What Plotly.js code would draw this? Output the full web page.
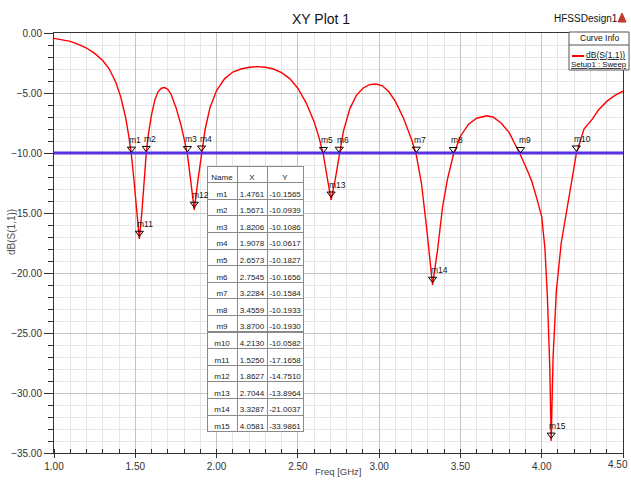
<!DOCTYPE html>
<html>
<head>
<meta charset="utf-8">
<script src="https://cdn.plot.ly/plotly-3.0.1.min.js"></script>
<style>html,body{margin:0;padding:0;background:#fff;}#plot{width:631px;height:486px;}</style>
</head>
<body>
<div id="plot"></div>
<script>
// S11 curve (Freq GHz, dB)
const freq = [1.00,1.05,1.10,1.15,1.20,1.25,1.30,1.34,1.38,1.41,1.44,1.46,1.4761,1.49,1.505,1.525,1.54,1.555,1.5671,1.58,1.60,1.62,1.64,1.66,1.68,1.70,1.72,1.75,1.78,1.80,1.8206,1.84,1.8627,1.885,1.9078,1.93,1.96,2.00,2.05,2.10,2.15,2.20,2.25,2.30,2.35,2.40,2.45,2.50,2.55,2.60,2.63,2.6573,2.68,2.7044,2.73,2.7545,2.78,2.82,2.86,2.90,2.94,2.98,3.02,3.06,3.10,3.15,3.20,3.2284,3.26,3.29,3.3287,3.36,3.39,3.42,3.4559,3.50,3.55,3.60,3.66,3.70,3.75,3.80,3.85,3.87,3.91,3.94,3.97,4.00,4.02,4.035,4.05,4.0581,4.07,4.09,4.12,4.15,4.18,4.213,4.26,4.31,4.35,4.40,4.45,4.50];
const s11 = [-0.45,-0.55,-0.7,-0.95,-1.25,-1.7,-2.3,-3.0,-4.1,-5.3,-7.0,-8.6,-10.16,-12.0,-14.5,-17.17,-15.0,-12.0,-10.09,-8.5,-6.8,-5.6,-4.9,-4.6,-4.55,-4.7,-5.1,-6.2,-7.6,-8.8,-10.11,-12.2,-14.75,-12.3,-10.06,-8.0,-6.2,-4.8,-3.8,-3.25,-3.0,-2.85,-2.8,-2.85,-3.0,-3.3,-3.8,-4.6,-5.8,-7.4,-8.7,-10.18,-12.0,-13.90,-12.2,-10.17,-8.2,-6.3,-5.2,-4.6,-4.3,-4.25,-4.4,-4.9,-5.7,-7.1,-8.9,-10.16,-12.5,-16.0,-21.0,-18.0,-14.5,-12.2,-10.19,-8.6,-7.6,-7.1,-6.9,-7.0,-7.5,-8.3,-9.6,-10.19,-11.4,-12.4,-13.8,-15.3,-18.0,-22.0,-28.0,-33.99,-27.0,-21.5,-17.5,-15.2,-12.8,-10.06,-8.0,-7.2,-6.4,-5.7,-5.2,-4.85];

// markers
const mNames = ['m1','m2','m3','m4','m5','m6','m7','m8','m9','m10','m11','m12','m13','m14','m15'];
const mX = [1.4761,1.5671,1.8206,1.9078,2.6573,2.7545,3.2284,3.4559,3.8700,4.2130,1.5250,1.8627,2.7044,3.3287,4.0581];
const mY = [-10.1565,-10.0939,-10.1086,-10.0617,-10.1827,-10.1656,-10.1584,-10.1933,-10.1930,-10.0582,-17.1658,-14.7510,-13.8964,-21.0037,-33.9861];
const mXText = ['1.4761','1.5671','1.8206','1.9078','2.6573','2.7545','3.2284','3.4559','3.8700','4.2130','1.5250','1.8627','2.7044','3.3287','4.0581'];
const mYText = ['-10.1565','-10.0939','-10.1086','-10.0617','-10.1827','-10.1656','-10.1584','-10.1933','-10.1930','-10.0582','-17.1658','-14.7510','-13.8964','-21.0037','-33.9861'];

const refLevel = -10;
const xTicks = [1.0,1.5,2.0,2.5,3.0,3.5,4.0,4.5];
const yTicks = [0,-5,-10,-15,-20,-25,-30,-35];

const FONT = '"Liberation Sans Narrow","Arial Narrow","Liberation Sans",Arial,sans-serif';
const W = 631, H = 486, L = 54, R = 8, T = 33, B = 33;
const pw = W - L - R, ph = H - T - B;
const px = v => (v - L) / pw;          // pixel x -> paper
const py = v => (H - B - v) / ph;      // pixel y -> paper

// last x tick label sits at the right page edge: drawn as a right-anchored annotation
const lastX = xTicks[xTicks.length - 1];
const xTickText = xTicks.map(v => v === lastX ? '' : v.toFixed(2));

// marker triangles drawn slightly above each point (triangle tip at the point)
const triOffset = 0.5;
const traces = [
  {x: freq, y: s11, mode: 'lines', line: {color: '#ff0000', width: 1.4}, hoverinfo: 'skip'},
  {x: [1, 4.5], y: [refLevel, refLevel], mode: 'lines', line: {color: '#5a32e6', width: 3}, hoverinfo: 'skip'},
  {x: mX, y: mY.map(v => v + triOffset), mode: 'markers',
   marker: {symbol: 'triangle-down-open', size: 7, color: '#000', line: {color: '#000', width: 1}}},
  {type: 'table', columnwidth: [30, 30, 36],
   domain: {x: [px(207), px(303)], y: [py(432), py(166)]},
   header: {values: ['Name', 'X', 'Y'], height: 16.6, align: 'center',
            fill: {color: '#fff'}, line: {color: '#8a8a8a', width: 1},
            font: {family: FONT, size: 8, color: '#222'}},
   cells: {values: [mNames, mXText, mYText], height: 16.6, align: 'center',
           fill: {color: '#fff'}, line: {color: '#8a8a8a', width: 1},
           font: {family: FONT, size: 8, color: '#222'}}}
];

const annotations = mNames.map((n, i) => ({
  x: mX[i], y: mY[i], xref: 'x', yref: 'y', text: n, showarrow: false,
  xanchor: 'left', yanchor: 'bottom', xshift: -4, yshift: 8,
  font: {family: FONT, size: 8.5, color: '#111'}
}));
annotations.push(
  {xref: 'x', yref: 'paper', x: lastX, y: 0, text: lastX.toFixed(2), showarrow: false,
   xanchor: 'right', yanchor: 'top', xshift: 7, yshift: -4, font: {family: FONT, size: 10, color: '#333'}},
  {xref: 'paper', yref: 'paper', x: px(321), y: py(19), text: 'XY Plot 1', showarrow: false,
   xanchor: 'center', yanchor: 'middle', font: {family: FONT, size: 14, color: '#111'}},
  {xref: 'paper', yref: 'paper', x: px(552), y: py(19), text: 'HFSSDesign1', showarrow: false,
   xanchor: 'left', yanchor: 'middle', font: {family: FONT, size: 10, color: '#111'}},
  {xref: 'paper', yref: 'paper', x: px(599), y: py(38.5), text: 'Curve Info', showarrow: false,
   xanchor: 'center', yanchor: 'middle', font: {family: FONT, size: 8.5, color: '#111'}},
  {xref: 'paper', yref: 'paper', x: px(627), y: py(55), text: '<u>dB(S(1,1))</u>', showarrow: false,
   xanchor: 'right', yanchor: 'middle', font: {family: FONT, size: 8.5, color: '#111'}},
  {xref: 'paper', yref: 'paper', x: px(599), y: py(64.5), text: '<u>Setup1 : Sweep</u>', showarrow: false,
   xanchor: 'center', yanchor: 'middle', font: {family: FONT, size: 7.8, color: '#111'}},
  {xref: 'paper', yref: 'paper', x: px(338), y: py(471), text: 'Freq [GHz]', showarrow: false,
   xanchor: 'center', yanchor: 'middle', font: {family: FONT, size: 9.5, color: '#444'}},
  {xref: 'paper', yref: 'paper', x: px(11), y: py(232), text: 'dB(S(1,1))', showarrow: false,
   textangle: -90, xanchor: 'center', yanchor: 'middle', font: {family: FONT, size: 10, color: '#555'}}
);

const shapes = [
  {type: 'rect', xref: 'paper', yref: 'paper', x0: px(569), x1: px(629), y0: py(70), y1: py(32),
   line: {color: '#555', width: 1}, fillcolor: '#fff', layer: 'above'},
  {type: 'line', xref: 'paper', yref: 'paper', x0: px(569), x1: px(629), y0: py(45), y1: py(45),
   line: {color: '#555', width: 1}, layer: 'above'},
  {type: 'line', xref: 'paper', yref: 'paper', x0: px(572), x1: px(584), y0: py(56), y1: py(56),
   line: {color: '#ff0000', width: 2}, layer: 'above'},
  {type: 'path', xref: 'paper', yref: 'paper',
   path: `M ${px(618)} ${py(22)} L ${px(622)} ${py(13)} L ${px(626)} ${py(22)} Z`,
   fillcolor: '#c0392b', line: {color: '#c0392b', width: 1}}
];

const layout = {
  width: W, height: H,
  margin: {l: L, r: R, t: T, b: B, pad: 0},
  paper_bgcolor: '#fff', plot_bgcolor: '#fff',
  showlegend: false,
  font: {family: FONT, size: 10, color: '#333'},
  xaxis: {
    range: [1, 4.5], tickvals: xTicks, ticktext: xTickText,
    showgrid: true, gridcolor: '#c4c4c4', gridwidth: 1,
    ticks: 'outside', ticklen: 4, tickcolor: '#333',
    showline: true, linecolor: '#333', linewidth: 1, mirror: true,
    zeroline: false,
    minor: {dtick: 0.1, showgrid: true, gridcolor: '#e6e6e6', ticks: 'inside', ticklen: 4, tickcolor: '#333'},
    tickfont: {family: FONT, size: 10, color: '#333'}
  },
  yaxis: {
    range: [-35, 0], tickvals: yTicks, tickformat: '.2f',
    showgrid: true, gridcolor: '#c4c4c4', gridwidth: 1,
    ticks: 'outside', ticklen: 9, tickcolor: '#333',
    showline: true, linecolor: '#333', linewidth: 1, mirror: true,
    zeroline: false,
    minor: {dtick: 1, showgrid: true, gridcolor: '#e6e6e6', ticks: 'outside', ticklen: 5, tickcolor: '#333'},
    tickfont: {family: FONT, size: 10, color: '#333'}
  },
  annotations: annotations,
  shapes: shapes
};

Plotly.newPlot('plot', traces, layout, {displayModeBar: false, staticPlot: true});
</script>
</body>
</html>
